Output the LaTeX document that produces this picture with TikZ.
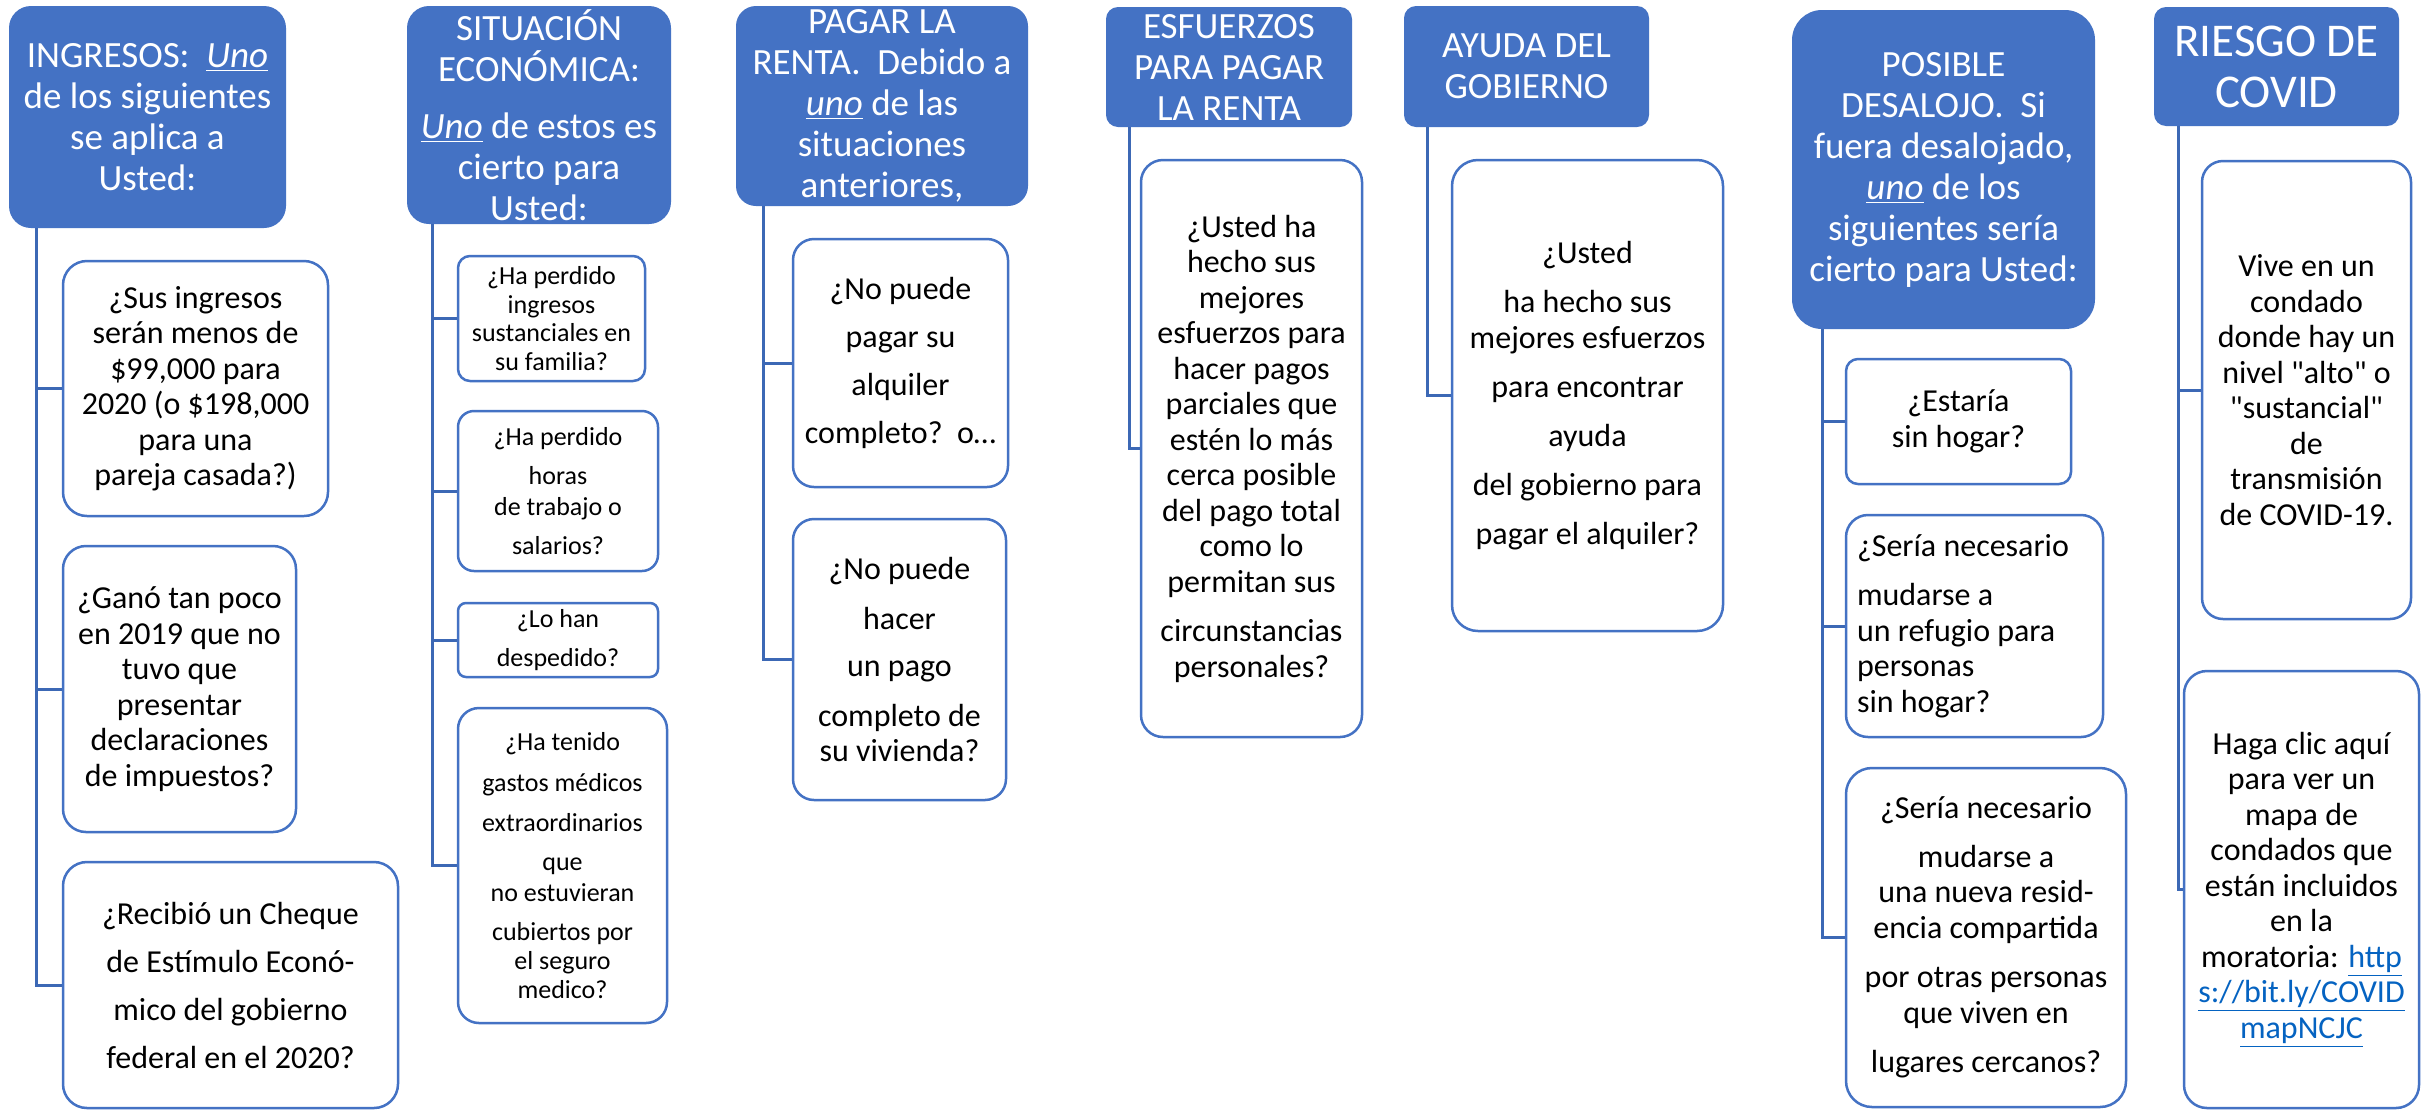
\documentclass[tikz,border=0pt]{standalone}
\usepackage{fontspec}
\setmainfont{Carlito}[Ligatures=TeXOff]
\usepackage{tikz}
\definecolor{hdrblue}{HTML}{4472C4}
\definecolor{boxblue}{HTML}{4472C4}
\definecolor{spineblue}{HTML}{3C68B5}
\definecolor{urlblue}{HTML}{0563C1}
\newcommand{\hdrfont}{\fontsize{18.5pt}{20.5pt}\selectfont}
\newcommand{\bighdrfont}{\fontsize{23.5pt}{25.5pt}\selectfont}
\newcommand{\qfont}{\fontsize{16pt}{17.75pt}\selectfont}
\newcommand{\qfontwide}{\fontsize{16pt}{24pt}\selectfont}
\newcommand{\smallqfont}{\fontsize{13pt}{14.3pt}\selectfont}
\newcommand{\unoword}[1]{\underline{\textit{#1}}}
\newcommand{\urlpart}[1]{\textcolor{urlblue}{\underline{#1}}}
\tikzstyle{header}=[fill=hdrblue,%
                    text=white,%
                    align=center,%
                    inner sep=0pt,%
                    font=\hdrfont]
\tikzstyle{question}=[draw=boxblue, line width=1.25pt, fill=white, align=center, inner sep=0pt, font=\qfont]
\tikzstyle{spine}=[draw=spineblue, line width=1.5pt]

\begin{document}
\begin{tikzpicture}[x=0.5pt,y=-0.5pt]
            \path[fill=white,use as bounding box] (0,0) rectangle (2423,1110);
            % ingresos
            \node[header, minimum width=138.5pt, minimum height=111pt, rounded corners=11pt] (ing) at (147.5,117) {INGRESOS:\ \ \unoword{Uno}\\de los siguientes\\se aplica a\\Usted:};
            \node[question, minimum width=132.5pt, minimum height=127.5pt, rounded corners=12pt] (ing1) at (195.5,388.5) {¿Sus ingresos\\serán menos de\\\$99,000 para\\2020 (o \$198,000\\para una\\pareja casada?)};
            \node[question, minimum width=116.5pt, minimum height=143pt, rounded corners=11.5pt] (ing2) at (179.5,689) {¿Ganó tan poco\\en 2019 que no\\tuvo que\\presentar\\declaraciones\\de impuestos?};
            \node[question, font=\qfontwide, minimum width=167.5pt, minimum height=123pt, rounded corners=12pt] (ing3) at (230.5,985) {¿Recibió un Cheque\\de Estímulo Econó-\\mico del gobierno\\federal en el 2020?};
            % situacion economica
            \node[header, minimum width=132pt, minimum height=109pt, rounded corners=11pt] (sit) at (539,115) {SITUACIÓN\\ECONÓMICA:\\[8pt]\unoword{Uno} de estos es\\cierto para\\Usted:};
            \node[question, font=\smallqfont, minimum width=93.5pt, minimum height=62.5pt, rounded corners=6pt] (sit1) at (551.5,318.5) {¿Ha perdido\\ingresos\\sustanciales en\\su familia?};
            \node[question, font=\smallqfont, minimum width=100pt, minimum height=80pt, rounded corners=8pt] (sit2) at (558,491) {¿Ha perdido\\[5pt]horas\\[1.5pt]de trabajo o\\[5pt]salarios?};
            \node[question, font=\smallqfont, minimum width=100pt, minimum height=37pt, rounded corners=4pt] (sit3) at (558,640) {¿Lo han\\[5.5pt]despedido?};
            \node[question, font=\smallqfont, minimum width=104.5pt, minimum height=157.5pt, rounded corners=10.5pt] (sit4) at (562.5,865.5) {¿Ha tenido\\[6pt]gastos médicos\\[5.5pt]extraordinarios\\[5.5pt]que\\[1pt]no estuvieran\\[5.5pt]cubiertos por\\el seguro\\medico?};
            % pagar la renta
            \node[header, minimum width=146pt, minimum height=100pt, rounded corners=10pt] (pag) at (882,106) {PAGAR LA\\RENTA.\ \ Debido a\\\unoword{uno} de las\\situaciones\\anteriores,};
            \node[question, font=\qfontwide, minimum width=107.5pt, minimum height=124pt, rounded corners=10.5pt] (pag1) at (900.5,363) {¿No puede\\pagar su\\alquiler\\completo?\ \ o…};
            \node[question, minimum width=106.5pt, minimum height=140.5pt, rounded corners=10.5pt] (pag2) at (899.5,659.5) {¿No puede\\[7pt]hacer\\[6pt]un pago\\[7pt]completo de\\su vivienda?};
            % esfuerzos
            \node[header, minimum width=123pt, minimum height=60pt, rounded corners=6pt] (esf) at (1229,67) {ESFUERZOS\\PARA PAGAR\\LA RENTA};
            \node[question, minimum width=110.5pt, minimum height=288.5pt, rounded corners=11pt] (esf1) at (1251.5,448.5) {¿Usted ha\\hecho sus\\mejores\\esfuerzos para\\hacer pagos\\parciales que\\estén lo más\\cerca posible\\del pago total\\como lo\\permitan sus\\[7pt]circunstancias\\personales?};
            % ayuda del gobierno
            \node[header, minimum width=122.5pt, minimum height=60.5pt, rounded corners=6pt] (ayu) at (1526.5,66.5) {AYUDA DEL\\GOBIERNO};
            \node[question, minimum width=135.5pt, minimum height=235.5pt, rounded corners=13pt] (ayu1) at (1587.5,395.5) {¿Usted\\[7pt]ha hecho sus\\mejores esfuerzos\\[7pt]para encontrar\\[6.5pt]ayuda\\[7pt]del gobierno para\\[6.5pt]pagar el alquiler?};
            % posible desalojo
            \node[header, minimum width=151.5pt, minimum height=159.5pt, rounded corners=15pt] (des) at (1943.5,169.5) {POSIBLE\\DESALOJO.\ \ Si\\fuera desalojado,\\\unoword{uno} de los\\siguientes sería\\cierto para Usted:};
            \node[question, minimum width=112.5pt, minimum height=62.5pt, rounded corners=6pt] (des1) at (1958.5,421.5) {¿Estaría\\sin hogar?};
            \node[question, align=flush left, text width=117.5pt, inner xsep=5.5pt, minimum height=111pt, rounded corners=11pt] (des2) at (1974.5,626) {¿Sería necesario\\[7pt]mudarse a\\un refugio para\\personas\\sin hogar?};
            \node[question, minimum width=140pt, minimum height=169.5pt, rounded corners=13pt] (des3) at (1986,937.5) {¿Sería necesario\\[6.5pt]mudarse a\\una nueva resid-\\encia compartida\\[7pt]por otras personas\\que viven en\\[7pt]lugares cercanos?};
            % riesgo de covid
            \node[header, font=\bighdrfont, minimum width=122.5pt, minimum height=59.5pt, rounded corners=6pt] (cov) at (2276.5,66.5) {RIESGO DE\\COVID};
            \node[question, minimum width=104.5pt, minimum height=229pt, rounded corners=10.5pt] (cov1) at (2306.5,390) {Vive en un\\condado\\donde hay un\\nivel "alto" o\\"sustancial"\\de\\transmisión\\de COVID-19.};
            \node[question, minimum width=117.5pt, minimum height=218.5pt, rounded corners=11.5pt] (cov2) at (2301.5,889.5) {Haga clic aquí\\para ver un\\mapa de\\condados que\\están incluidos\\en la\\moratoria: \urlpart{http}\\\urlpart{s://bit.ly/COVID}\\\urlpart{mapNCJC}};
            % spines
            \coordinate (ingx) at (36,0);
            \coordinate (sitx) at (432,0);
            \coordinate (pagx) at (763,0);
            \coordinate (esfx) at (1129,0);
            \coordinate (ayux) at (1427,0);
            \coordinate (desx) at (1822,0);
            \coordinate (covx) at (2178,0);
            \draw[spine] (ing.south -| ingx) |- (ing1.west);
            \draw[spine] (ing.south -| ingx) |- (ing2.west);
            \draw[spine] (ing.south -| ingx) |- (ing3.west);
            \draw[spine] (sit.south -| sitx) |- (sit1.west);
            \draw[spine] (sit.south -| sitx) |- (sit2.west);
            \draw[spine] (sit.south -| sitx) |- (sit3.west);
            \draw[spine] (sit.south -| sitx) |- (sit4.west);
            \draw[spine] (pag.south -| pagx) |- (pag1.west);
            \draw[spine] (pag.south -| pagx) |- (pag2.west);
            \draw[spine] (esf.south -| esfx) |- (esf1.west);
            \draw[spine] (ayu.south -| ayux) |- (ayu1.west);
            \draw[spine] (des.south -| desx) |- (des1.west);
            \draw[spine] (des.south -| desx) |- (des2.west);
            \draw[spine] (des.south -| desx) |- (des3.west);
            \draw[spine] (cov.south -| covx) |- (cov1.west);
            \draw[spine] (cov.south -| covx) |- (cov2.west);
\end{tikzpicture}
\end{document}
